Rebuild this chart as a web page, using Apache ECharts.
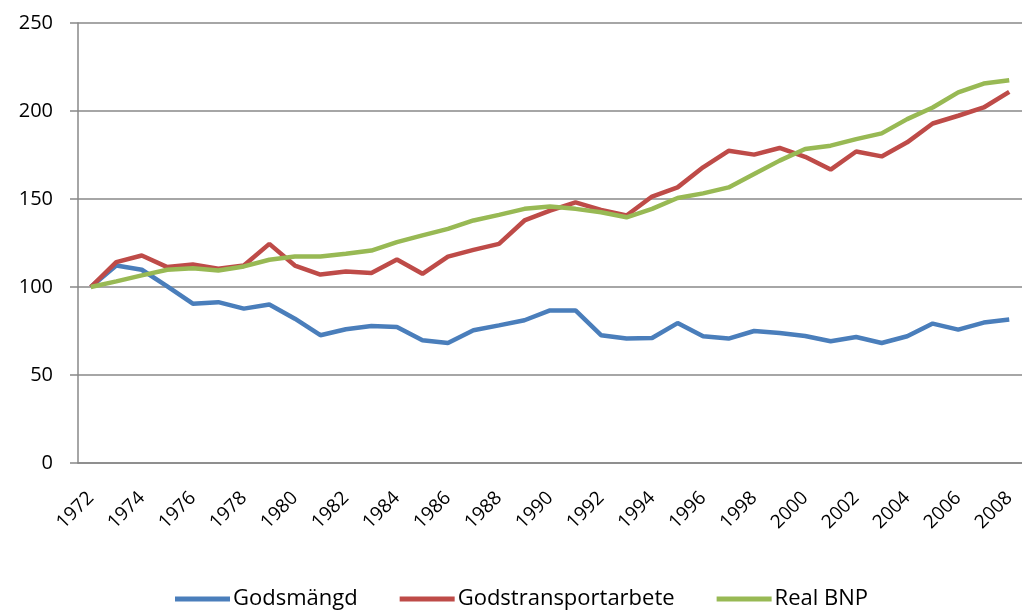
<!DOCTYPE html>
<html>
<head>
<meta charset="utf-8">
<script src="https://cdn.jsdelivr.net/npm/echarts@6/dist/echarts.min.js"></script>
<style>
  html, body { margin: 0; padding: 0; background: #fff; }
  #chart { width: 1022px; height: 615px; }
</style>
</head>
<body>
<div id="chart"></div>
<script>
// år 1972-2008
const years = [];
for (let y = 1972; y <= 2008; y++) years.push(String(y));

const godsmangd = [100, 112.2, 109.8, 100.3, 90.5, 91.4, 87.7, 90.1, 82.0, 72.6,
  76.0, 77.8, 77.3, 69.7, 68.2, 75.4, 78.2, 81.1, 86.7, 86.7,
  72.6, 70.7, 71.0, 79.5, 72.0, 70.7, 75.0, 73.9, 72.2, 69.2,
  71.6, 68.2, 72.0, 79.2, 75.8, 79.8, 81.5];
const godstransportarbete = [100, 114.1, 117.9, 111.3, 112.8, 110.4, 112.2, 124.5, 112.2, 107.1,
  108.8, 107.9, 115.6, 107.5, 117.3, 121.1, 124.5, 137.8, 143.4, 148.1,
  143.8, 140.6, 151.4, 156.6, 168.0, 177.4, 175.2, 179.0, 174.0, 166.7,
  177.0, 174.2, 182.2, 192.9, 197.3, 202.0, 210.9];
const realBnp = [100, 103.2, 106.6, 109.8, 110.7, 109.4, 111.7, 115.5, 117.3, 117.3,
  118.9, 120.7, 125.5, 129.3, 133.0, 137.8, 141.0, 144.4, 145.7, 144.4,
  142.5, 139.6, 144.4, 150.6, 153.2, 156.6, 164.2, 171.8, 178.4, 180.3,
  184.0, 187.3, 195.4, 202.0, 210.6, 215.6, 217.5];

const yTicks = [0, 50, 100, 150, 200, 250];

const font = '"Open Sans", "Noto Sans", sans-serif';
const myChart = echarts.init(document.getElementById('chart'));

function line(name, data, color) {
  return {
    name: name,
    type: 'line',
    data: data,
    symbol: 'none',
    lineStyle: { color: color, width: 4.5 },
    itemStyle: { color: color }
  };
}

const option = {
  animation: false,
  textStyle: { fontFamily: font },
  grid: { left: 78, top: 23, width: 947, height: 440 },
  legend: {
    bottom: 0,
    left: 170,
    icon: 'rect',
    itemWidth: 55,
    itemHeight: 5,
    itemGap: 42,
    textStyle: { fontSize: 22, color: '#000', fontFamily: font, padding: [0, 0, 0, -2] },
    data: ['Godsmängd', 'Godstransportarbete', 'Real BNP']
  },
  xAxis: {
    type: 'category',
    data: years,
    boundaryGap: true,
    axisLine: { lineStyle: { color: '#888', width: 1.5 } },
    axisTick: { interval: 0, length: 8, lineStyle: { color: '#888', width: 1.5 } },
    axisLabel: {
      interval: 1,
      rotate: 45,
      fontSize: 19,
      color: '#000',
      margin: 32
    }
  },
  yAxis: {
    type: 'value',
    min: yTicks[0],
    max: yTicks[yTicks.length - 1],
    interval: 50,
    axisLine: { show: true, lineStyle: { color: '#888', width: 1.5 } },
    axisTick: { show: true, length: 8, lineStyle: { color: '#888', width: 1.5 } },
    splitLine: { lineStyle: { color: '#888', width: 1.5 } },
    axisLabel: { fontSize: 20, color: '#000', margin: 25 }
  },
  series: [
    line('Godsmängd', godsmangd, '#4a7ebb'),
    line('Godstransportarbete', godstransportarbete, '#be4b48'),
    line('Real BNP', realBnp, '#98b954')
  ]
};

myChart.setOption(option);
window.addEventListener('resize', function () {
  myChart.resize();
});
</script>
</body>
</html>
